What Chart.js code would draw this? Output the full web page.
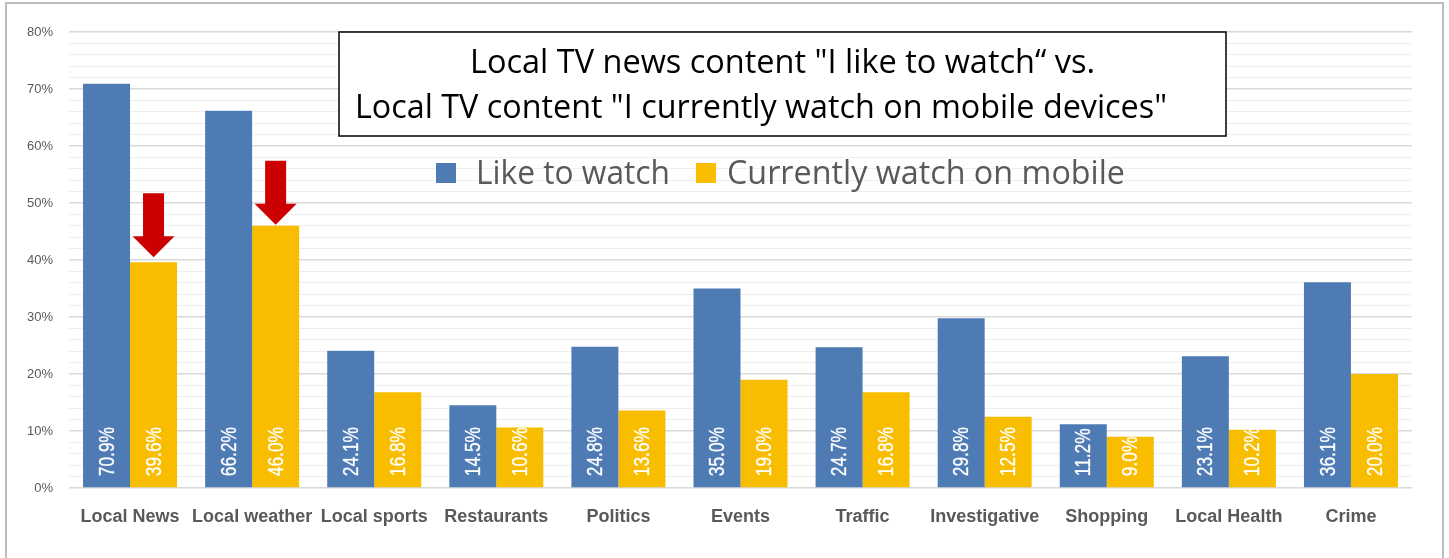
<!DOCTYPE html>
<html>
<head>
<meta charset="utf-8">
<title>Local TV news content</title>
<script src="https://cdn.jsdelivr.net/npm/chart.js@4.4.1/dist/chart.umd.min.js"></script>
<style>
  html, body { margin: 0; padding: 0; background: #fff; }
  #wrap { width: 1449px; height: 558px; position: relative; }
</style>
</head>
<body>
<div id="wrap"><canvas id="contentChart"></canvas></div>
<script>
// categories and survey results (percent)
const categories = ['Local News', 'Local weather', 'Local sports', 'Restaurants', 'Politics', 'Events',
                    'Traffic', 'Investigative', 'Shopping', 'Local Health', 'Crime'];
const likeToWatch = [70.9, 66.2, 24.1, 14.5, 24.8, 35.0, 24.7, 29.8, 11.2, 23.1, 36.1];
const watchOnMobile = [39.6, 46.0, 16.8, 10.6, 13.6, 19.0, 16.8, 12.5, 9.0, 10.2, 20.0];
const seriesNames = ['Like to watch', 'Currently watch on mobile'];
const titleLines = ['Local TV news content "I like to watch\u201c vs.',
                    'Local TV content "I currently watch on mobile devices"'];
const highlighted = [0, 1]; // categories that get a red arrow on the mobile bar

const BLUE = '#4f7bb5';
const YELLOW = '#f9bd00';
const GREY_TEXT = '#595959';

// draw text squeezed horizontally so it spans a given width
function fitText(ctx, text, x, y, width) {
  const w = ctx.measureText(text).width;
  ctx.save();
  ctx.translate(x, y);
  ctx.scale(width / w, 1);
  ctx.fillText(text, 0, 0);
  ctx.restore();
}

const framePlugin = {
  id: 'frame',
  beforeDraw(chart) {
    const ctx = chart.ctx;
    ctx.save();
    ctx.fillStyle = '#fff';
    ctx.fillRect(0, 0, chart.width, chart.height);
    ctx.strokeStyle = '#bdbdbd';
    ctx.lineWidth = 2;
    ctx.strokeRect(6, 3, 1437, 700);
    ctx.restore();
  }
};

const barLabelPlugin = {
  id: 'barLabels',
  afterDatasetsDraw(chart) {
    const ctx = chart.ctx;
    ctx.save();
    ctx.fillStyle = '#fff';
    ctx.strokeStyle = 'rgba(255,255,255,0.5)';
    ctx.lineWidth = 0.6;
    ctx.font = '22px "Liberation Sans", Arial, sans-serif';
    ctx.textAlign = 'left';
    ctx.textBaseline = 'middle';
    chart.data.datasets.forEach((ds, i) => {
      chart.getDatasetMeta(i).data.forEach((bar, j) => {
        const txt = ds.data[j].toFixed(1) + '%';
        ctx.save();
        ctx.translate(bar.x, bar.base - 11);
        ctx.rotate(-Math.PI / 2);
        ctx.scale(0.79, 1);
        ctx.fillText(txt, 0, 1);
        ctx.strokeText(txt, 0, 1);
        ctx.restore();
      });
    });
    ctx.restore();
  }
};

const arrowPlugin = {
  id: 'arrows',
  afterDatasetsDraw(chart) {
    const ctx = chart.ctx;
    const bars = chart.getDatasetMeta(1).data;
    const gaps = [5, 1];
    ctx.save();
    ctx.fillStyle = '#cc0000';
    highlighted.forEach((idx, k) => {
      const bar = bars[idx];
      const tip = bar.y - gaps[k];
      const x = bar.x;
      ctx.beginPath();
      ctx.moveTo(x - 10.5, tip - 64);
      ctx.lineTo(x + 10.5, tip - 64);
      ctx.lineTo(x + 10.5, tip - 21);
      ctx.lineTo(x + 21, tip - 21);
      ctx.lineTo(x, tip);
      ctx.lineTo(x - 21, tip - 21);
      ctx.lineTo(x - 10.5, tip - 21);
      ctx.closePath();
      ctx.fill();
    });
    ctx.restore();
  }
};

const headerPlugin = {
  id: 'header',
  afterDraw(chart) {
    const ctx = chart.ctx;
    ctx.save();
    // boxed title
    ctx.fillStyle = '#fff';
    ctx.fillRect(339, 32, 887, 104);
    ctx.strokeStyle = '#000';
    ctx.lineWidth = 1.5;
    ctx.strokeRect(339, 32, 887, 104);
    ctx.fillStyle = '#000';
    ctx.font = '32px "Open Sans", sans-serif';
    ctx.textBaseline = 'alphabetic';
    ctx.textAlign = 'left';
    fitText(ctx, titleLines[0], 470, 73, 625);
    fitText(ctx, titleLines[1], 355, 118, 812);

    // legend
    ctx.font = '32px "Open Sans", sans-serif';
    const items = [
      { sq: 436, tx: 476, w: 194 },
      { sq: 696, tx: 727, w: 398 }
    ];
    chart.data.datasets.forEach((ds, i) => {
      const it = items[i];
      ctx.fillStyle = ds.backgroundColor;
      ctx.fillRect(it.sq, 163, 20, 20);
      ctx.fillStyle = GREY_TEXT;
      fitText(ctx, ds.label, it.tx, 184, it.w);
    });
    ctx.restore();
  }
};

new Chart(document.getElementById('contentChart'), {
  type: 'bar',
  data: {
    labels: categories,
    datasets: [
      { label: seriesNames[0], data: likeToWatch, backgroundColor: BLUE },
      { label: seriesNames[1], data: watchOnMobile, backgroundColor: YELLOW }
    ]
  },
  options: {
    responsive: true,
    maintainAspectRatio: false,
    animation: false,
    categoryPercentage: 0.77,
    barPercentage: 1.0,
    layout: { padding: { left: 10, right: 37, top: 32, bottom: 0 } },
    plugins: {
      legend: { display: false },
      title: { display: false },
      tooltip: { enabled: false }
    },
    scales: {
      x: {
        grid: { display: false },
        border: { display: false },
        ticks: {
          color: GREY_TEXT,
          font: { family: '"Liberation Sans", Arial, sans-serif', size: 18, weight: 'bold' },
          padding: 10,
          maxRotation: 0,
          autoSkip: false
        },
        afterFit(scale) { scale.height = 70; }
      },
      y: {
        min: 0,
        max: 80,
        border: { display: false },
        grid: {
          drawTicks: false,
          color: c => (c.tick.value % 10 === 0 ? '#d9d9d9' : '#eeeeee'),
          lineWidth: c => (c.tick.value % 10 === 0 ? 1.5 : 1)
        },
        ticks: {
          stepSize: 2,
          autoSkip: false,
          padding: 16,
          color: GREY_TEXT,
          font: { family: '"Liberation Sans", Arial, sans-serif', size: 13 },
          callback: v => (v % 10 === 0 ? v + '%' : '')
        },
        afterFit(scale) { scale.width = 59; }
      }
    }
  },
  plugins: [framePlugin, barLabelPlugin, arrowPlugin, headerPlugin]
});
</script>
</body>
</html>
